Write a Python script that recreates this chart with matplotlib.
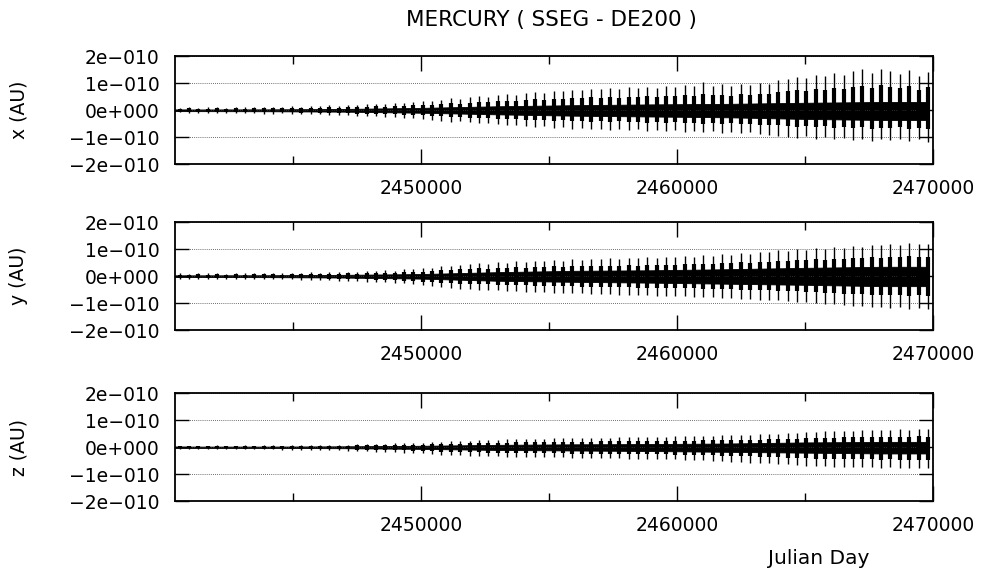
import numpy as np
import matplotlib
matplotlib.use('Agg')
import matplotlib.pyplot as plt
from matplotlib.ticker import FixedLocator, FixedFormatter

title = 'MERCURY ( SSEG - DE200 )'
panel_labels = ['x (AU)', 'y (AU)', 'z (AU)']
x_label = 'Julian Day'
jd_start, jd_end = 2440400.5, 2470000
major_jd = [2450000, 2460000, 2470000]
minor_jd = [2445000, 2455000, 2465000]
y_ticks = [-2e-10, -1e-10, 0, 1e-10, 2e-10]
y_tick_labels = ['\u22122e\u2212010', '\u22121e\u2212010', '0e+000', '1e\u2212010', '2e\u2212010']

# one large excursion per year, values in units of 1e-11 AU
spike_jd = np.arange(2440580, 2469900, 365.25)

x_top = [1.0, 1.2, 0.9, 1.1, 1.3, 1.0, 1.2, 1.1, 1.3, 1.2,
         1.4, 1.2, 1.5, 1.3, 1.6, 1.5, 1.8, 1.6, 2.0, 1.9,
         2.2, 2.4, 2.3, 2.8, 2.6, 3.2, 3.5, 3.3, 4.0, 4.4,
         4.2, 4.8, 5.2, 5.0, 5.6, 6.0, 5.8, 6.4, 6.9, 6.6,
         7.2, 7.0, 7.6, 7.4, 8.0, 7.8, 8.3, 7.9, 8.5, 8.2,
         8.8, 8.4, 9.0, 8.6, 9.4, 8.9, 10.4, 9.2, 9.6, 9.0,
         9.8, 9.4, 10.2, 9.8, 11.2, 11.8, 12.5, 12.0, 13.2, 12.6,
         13.8, 13.0, 14.5, 15.2, 14.0, 15.5, 14.6, 13.6, 14.8, 12.8, 14.2]
x_bot = [-0.8, -1.0, -0.9, -1.0, -1.1, -0.9, -1.0, -1.1, -1.0, -1.2,
         -1.2, -1.1, -1.3, -1.4, -1.3, -1.5, -1.6, -1.8, -1.7, -2.0,
         -2.2, -2.1, -2.5, -2.4, -2.8, -3.0, -3.2, -3.6, -3.8, -4.2,
         -4.0, -4.5, -4.8, -4.6, -5.2, -5.5, -5.3, -5.9, -6.2, -6.0,
         -6.4, -6.2, -6.8, -6.5, -7.0, -6.8, -7.2, -6.9, -7.4, -7.1,
         -7.6, -7.2, -7.8, -7.4, -8.0, -7.6, -8.2, -7.8, -8.4, -8.0,
         -8.6, -8.2, -8.8, -9.0, -9.4, -9.8, -10.2, -9.6, -10.6, -10.0,
         -10.8, -10.2, -11.0, -10.6, -11.4, -10.8, -11.2, -10.6, -11.4, -10.8, -11.6]

y_top = [1.0, 0.9, 1.1, 1.0, 1.2, 0.9, 1.1, 1.0, 1.2, 1.1,
         1.2, 1.0, 1.3, 1.1, 1.4, 1.2, 1.5, 1.4, 1.7, 1.6,
         1.9, 1.8, 2.2, 2.1, 2.5, 2.6, 2.9, 3.2, 3.6, 3.9,
         4.2, 4.4, 4.8, 4.6, 5.2, 5.0, 5.5, 5.3, 5.8, 5.6,
         6.0, 5.8, 6.2, 6.0, 6.4, 6.2, 6.6, 6.4, 6.8, 6.6,
         7.0, 6.8, 7.2, 7.0, 7.5, 7.3, 7.8, 7.6, 8.2, 8.0,
         8.6, 8.4, 9.0, 8.8, 9.6, 9.4, 10.0, 9.8, 10.4, 10.2,
         10.8, 10.6, 11.2, 11.0, 11.6, 11.4, 12.0, 11.6, 12.2, 11.8, 12.0]
y_bot = [-0.9, -1.0, -0.9, -1.1, -1.0, -1.1, -0.9, -1.1, -1.0, -1.2,
         -1.1, -1.2, -1.2, -1.3, -1.3, -1.4, -1.5, -1.6, -1.7, -1.8,
         -2.0, -2.1, -2.3, -2.5, -2.7, -3.0, -3.3, -3.6, -4.0, -4.3,
         -4.6, -4.8, -5.0, -5.1, -5.3, -5.4, -5.6, -5.7, -5.9, -6.0,
         -6.1, -6.2, -6.3, -6.4, -6.5, -6.6, -6.7, -6.8, -6.9, -7.0,
         -7.1, -7.2, -7.3, -7.4, -7.5, -7.6, -7.8, -7.9, -8.1, -8.2,
         -8.4, -8.5, -8.7, -8.8, -9.0, -9.2, -9.4, -9.6, -9.9, -10.2,
         -10.5, -10.8, -11.0, -11.2, -11.5, -11.4, -11.8, -11.6, -12.0, -11.8, -12.2]

z_top = [0.5, 0.6, 0.5, 0.6, 0.7, 0.5, 0.6, 0.7, 0.6, 0.7,
         0.7, 0.6, 0.8, 0.7, 0.8, 0.8, 0.9, 0.9, 1.0, 1.1,
         1.1, 1.2, 1.3, 1.4, 1.5, 1.6, 1.7, 1.9, 2.0, 2.2,
         2.3, 2.4, 2.6, 2.7, 2.8, 2.9, 3.0, 3.1, 3.2, 3.2,
         3.3, 3.4, 3.4, 3.5, 3.5, 3.6, 3.6, 3.7, 3.7, 3.8,
         3.8, 3.9, 3.9, 4.0, 4.0, 4.1, 4.2, 4.3, 4.4, 4.5,
         4.6, 4.7, 4.8, 4.9, 5.0, 5.2, 5.4, 5.6, 5.8, 5.9,
         6.0, 6.1, 6.2, 6.3, 6.4, 6.5, 6.4, 6.6, 6.5, 6.7, 6.6]
z_bot = [-0.5, -0.6, -0.6, -0.7, -0.6, -0.7, -0.7, -0.8, -0.7, -0.8,
         -0.8, -0.9, -0.9, -1.0, -1.0, -1.1, -1.1, -1.2, -1.3, -1.4,
         -1.5, -1.6, -1.7, -1.8, -2.0, -2.1, -2.3, -2.5, -2.7, -2.9,
         -3.0, -3.1, -3.2, -3.3, -3.4, -3.5, -3.5, -3.6, -3.7, -3.7,
         -3.8, -3.8, -3.9, -3.9, -4.0, -4.0, -4.1, -4.1, -4.2, -4.2,
         -4.3, -4.3, -4.4, -4.5, -4.6, -4.7, -4.8, -5.0, -5.2, -5.4,
         -5.5, -5.7, -5.9, -6.0, -6.2, -6.4, -6.6, -6.8, -7.0, -7.1,
         -7.2, -7.3, -7.4, -7.5, -7.4, -7.6, -7.5, -7.7, -7.6, -7.8, -7.6]

# dense inner band (the 88-day wiggle), same units
core_jd = [2440400.5, 2444000, 2447000, 2450000, 2453000, 2456000,
           2459000, 2462000, 2465000, 2468000, 2469800]
x_core_top = [0.3, 0.35, 0.5, 0.9, 1.5, 1.9, 2.2, 2.4, 2.8, 3.1, 3.1]
x_core_bot = [-0.3, -0.35, -0.5, -0.9, -1.5, -2.0, -2.3, -2.6, -3.2, -3.6, -3.6]
y_core_top = [0.3, 0.35, 0.5, 0.8, 1.5, 2.0, 2.2, 2.6, 3.1, 3.5, 3.5]
y_core_bot = [-0.3, -0.35, -0.5, -0.9, -1.7, -2.1, -2.4, -2.8, -3.2, -3.7, -3.7]
z_core_top = [0.25, 0.25, 0.35, 0.55, 0.9, 1.1, 1.2, 1.4, 1.8, 2.0, 2.0]
z_core_bot = [-0.25, -0.25, -0.35, -0.6, -1.0, -1.2, -1.4, -1.7, -2.0, -2.3, -2.3]

panels = [
    (x_top, x_bot, x_core_top, x_core_bot),
    (y_top, y_bot, y_core_top, y_core_bot),
    (z_top, z_bot, z_core_top, z_core_bot),
]

fig = plt.figure(figsize=(9.87, 5.76), dpi=100)
bottoms = [0.715, 0.427, 0.130]
ax_h = 0.187

for i, (top, bot, ctop, cbot) in enumerate(panels):
    top = np.array(top) * 1e-11
    bot = np.array(bot) * 1e-11
    ax = fig.add_axes([0.1773, bottoms[i], 0.768, ax_h])
    ax.fill_between(core_jd, np.array(cbot) * 1e-11, np.array(ctop) * 1e-11,
                    color='black', lw=0.6)
    # thin full spike plus a heavier body, gives the wedge look of the plotter trace
    ax.vlines(spike_jd, bot, top, color='black', lw=1.0)
    ax.vlines(spike_jd, 0.6 * bot, 0.6 * top, color='black', lw=3.0)

    ax.set_xlim(jd_start, jd_end)
    ax.set_ylim(-2e-10, 2e-10)

    ax.xaxis.set_major_locator(FixedLocator(major_jd))
    ax.xaxis.set_major_formatter(FixedFormatter([str(v) for v in major_jd]))
    ax.xaxis.set_minor_locator(FixedLocator(minor_jd))
    ax.yaxis.set_major_locator(FixedLocator(y_ticks))
    ax.yaxis.set_major_formatter(FixedFormatter(y_tick_labels))

    ax.tick_params(axis='both', which='both', direction='in', top=True, right=True,
                   width=1.0, labelsize=13.5, pad=11)
    ax.tick_params(axis='x', which='major', length=11)
    ax.tick_params(axis='x', which='minor', length=5.5)
    ax.tick_params(axis='y', which='major', length=10)

    ax.grid(axis='y', linestyle=(0, (1, 1.5)), lw=0.6, color='0.25')
    for s in ax.spines.values():
        s.set_linewidth(1.3)

    fig.text(0.019, bottoms[i] + ax_h / 2, panel_labels[i], rotation=90,
             ha='center', va='center', fontsize=13.5)

fig.text(0.559, 0.965, title, ha='center', va='center', fontsize=15.5)
fig.text(0.829, 0.031, x_label, ha='center', va='center', fontsize=14.5)

fig.savefig('out.png', dpi=100)
